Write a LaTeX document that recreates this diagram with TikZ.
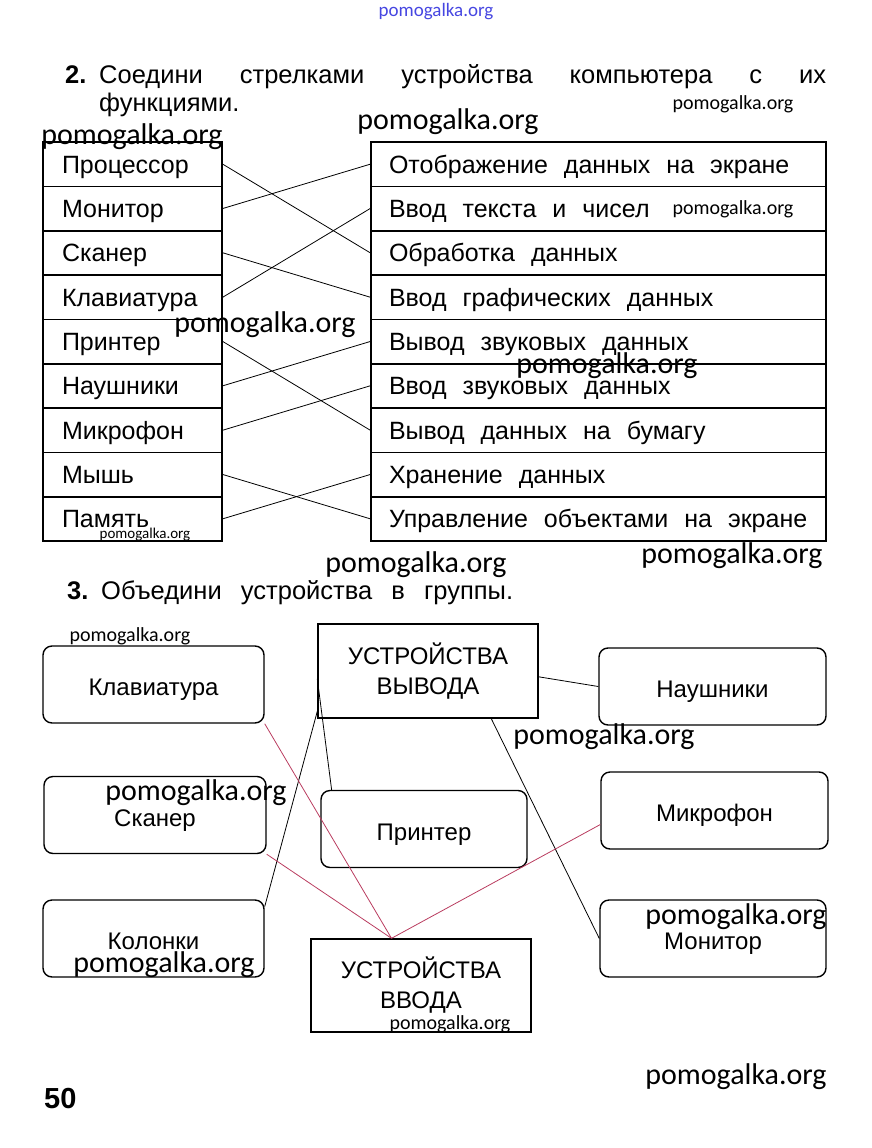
\documentclass[tikz,border=0pt]{standalone}
\usepackage{fontspec}
\setmainfont{Liberation Sans}
\newfontfamily\wmfont{Carlito}

\definecolor{linkred}{RGB}{185,60,95}
\definecolor{wmblue}{RGB}{70,70,225}

\newcommand{\rowtxt}[1]{\makebox[419pt][l]{\spaceskip=0.64em\relax #1}}

\tikzset{
  rowbox/.style={draw, line width=1.6pt, inner ysep=0pt, minimum height=44.4pt,
    text height=18pt, text depth=0pt, font=\fontsize{25}{28}\selectfont},
  leftbox/.style={rowbox, inner xsep=19pt, text width=141pt, align=left},
  rightbox/.style={rowbox, inner xsep=18pt},
  devbox/.style={draw, line width=1.4pt, rounded corners=9pt, minimum height=77pt,
    text height=22pt, text depth=0pt, font=\fontsize{24}{28}\selectfont},
  groupbox/.style={draw, line width=1.4pt, minimum width=220pt, minimum height=94pt,
    align=center, font=\fontsize{24}{30}\selectfont},
  headline/.style={anchor=base west, inner sep=0pt, font=\fontsize{25.5}{28}\selectfont},
  link/.style={line width=0.8pt},
  redlink/.style={line width=0.8pt, linkred},
  wm/.style={inner sep=0pt, font=\wmfont\fontsize{30}{30}\selectfont},
  wmsmall/.style={inner sep=0pt, font=\wmfont\fontsize{20}{20}\selectfont}
}

\begin{document}
\begin{tikzpicture}[x=1pt, y=-1pt]

\useasboundingbox (0,0) rectangle (871,1148);

\node[headline] (n2) at (65,83) {\bfseries 2.};
\node[headline] (q2a) at (99,83) {\makebox[727pt][s]{Соедини стрелками устройства компьютера с их}};
\node[headline] (q2b) at (99,111) {функциями.};

\node[leftbox] (l1) at (132.5,164.2) {Процессор};
\node[leftbox] (l2) at (132.5,208.5) {Монитор};
\node[leftbox] (l3) at (132.5,252.8) {Сканер};
\node[leftbox] (l4) at (132.5,297.2) {Клавиатура};
\node[leftbox] (l5) at (132.5,341.5) {Принтер};
\node[leftbox] (l6) at (132.5,385.8) {Наушники};
\node[leftbox] (l7) at (132.5,430.2) {Микрофон};
\node[leftbox] (l8) at (132.5,474.5) {Мышь};
\node[leftbox] (l9) at (132.5,518.8) {Память};

\node[rightbox] (r1) at (598.5,164.2) {\rowtxt{Отображение данных на экране}};
\node[rightbox] (r2) at (598.5,208.5) {\rowtxt{Ввод текста и чисел}};
\node[rightbox] (r3) at (598.5,252.8) {\rowtxt{Обработка данных}};
\node[rightbox] (r4) at (598.5,297.2) {\rowtxt{Ввод графических данных}};
\node[rightbox] (r5) at (598.5,341.5) {\rowtxt{Вывод звуковых данных}};
\node[rightbox] (r6) at (598.5,385.8) {\rowtxt{Ввод звуковых данных}};
\node[rightbox] (r7) at (598.5,430.2) {\rowtxt{Вывод данных на бумагу}};
\node[rightbox] (r8) at (598.5,474.5) {\rowtxt{Хранение данных}};
\node[rightbox] (r9) at (598.5,518.8) {\rowtxt{Управление объектами на экране}};

\draw[link] (l1.east) -- (r3.west);
\draw[link] (l2.east) -- (r1.west);
\draw[link] (l3.east) -- (r4.west);
\draw[link] (l4.east) -- (r2.west);
\draw[link] (l5.east) -- (r7.west);
\draw[link] (l6.east) -- (r5.west);
\draw[link] (l7.east) -- (r6.west);
\draw[link] (l8.east) -- (r9.west);
\draw[link] (l9.east) -- (r8.west);

\node[headline] (n3) at (67,599) {\bfseries 3.};
\node[headline] (q3) at (101,599) {\spaceskip=0.75em\relax Объедини устройства в группы.};

\node[devbox, minimum width=221pt] (kl) at (153.5,684.5) {Клавиатура};
\node[devbox, minimum width=222pt] (sk) at (155,815) {Сканер};
\node[devbox, minimum width=221pt] (kol) at (153.5,938.5) {Колонки};
\node[groupbox] (out) at (428,671) {УСТРОЙСТВА\\ВЫВОДА};
\node[devbox, minimum width=206pt] (pr) at (424,829) {Принтер};
\node[groupbox, minimum height=93pt] (inp) at (421,985.5) {УСТРОЙСТВА\\ВВОДА};
\node[devbox, minimum width=227pt] (nau) at (712.5,686.5) {Наушники};
\node[devbox, minimum width=227pt] (mic) at (714.5,810.5) {Микрофон};
\node[devbox, minimum width=226pt] (mon) at (713,938.5) {Монитор};

\draw[link] (out.200) -- (kol.16);
\draw[link] (out.184) -- (pr.157);
\draw[link] (out.-3) -- (nau.west);
\draw[link] (out.-37) -- (mon.west);

\draw[redlink] (kl.south east) -- (inp.122);
\draw[redlink] (sk.south east) -- (inp.122);
\draw[redlink] (mic.187) -- (inp.122);

\node[anchor=base west, inner sep=0pt, font=\fontsize{29}{29}\selectfont\bfseries] (page) at (44,1108) {50};

\node[wmsmall, wmblue, font=\wmfont\fontsize{19}{19}\selectfont] (wm1) at (436,12) {pomogalka.org};
\node[wmsmall] (wm2) at (733,104) {pomogalka.org};
\node[wm] (wm3) at (448,122) {pomogalka.org};
\node[wm] (wm4) at (132,137) {pomogalka.org};
\node[wmsmall] (wm5) at (733,209) {pomogalka.org};
\node[wm] (wm6) at (265,325) {pomogalka.org};
\node[wm] (wm7) at (607,366) {pomogalka.org};
\node[wmsmall, font=\wmfont\fontsize{15}{15}\selectfont] (wm8) at (145,535) {pomogalka.org};
\node[wm] (wm9) at (416,565) {pomogalka.org};
\node[wm] (wm10) at (732,556) {pomogalka.org};
\node[wmsmall] (wm11) at (130,636) {pomogalka.org};
\node[wm] (wm12) at (604,737) {pomogalka.org};
\node[wm] (wm13) at (196,793) {pomogalka.org};
\node[wm] (wm14) at (736,917) {pomogalka.org};
\node[wm] (wm15) at (164,965) {pomogalka.org};
\node[wmsmall] (wm16) at (450,1024) {pomogalka.org};
\node[wm] (wm17) at (736,1077) {pomogalka.org};

\end{tikzpicture}
\end{document}
